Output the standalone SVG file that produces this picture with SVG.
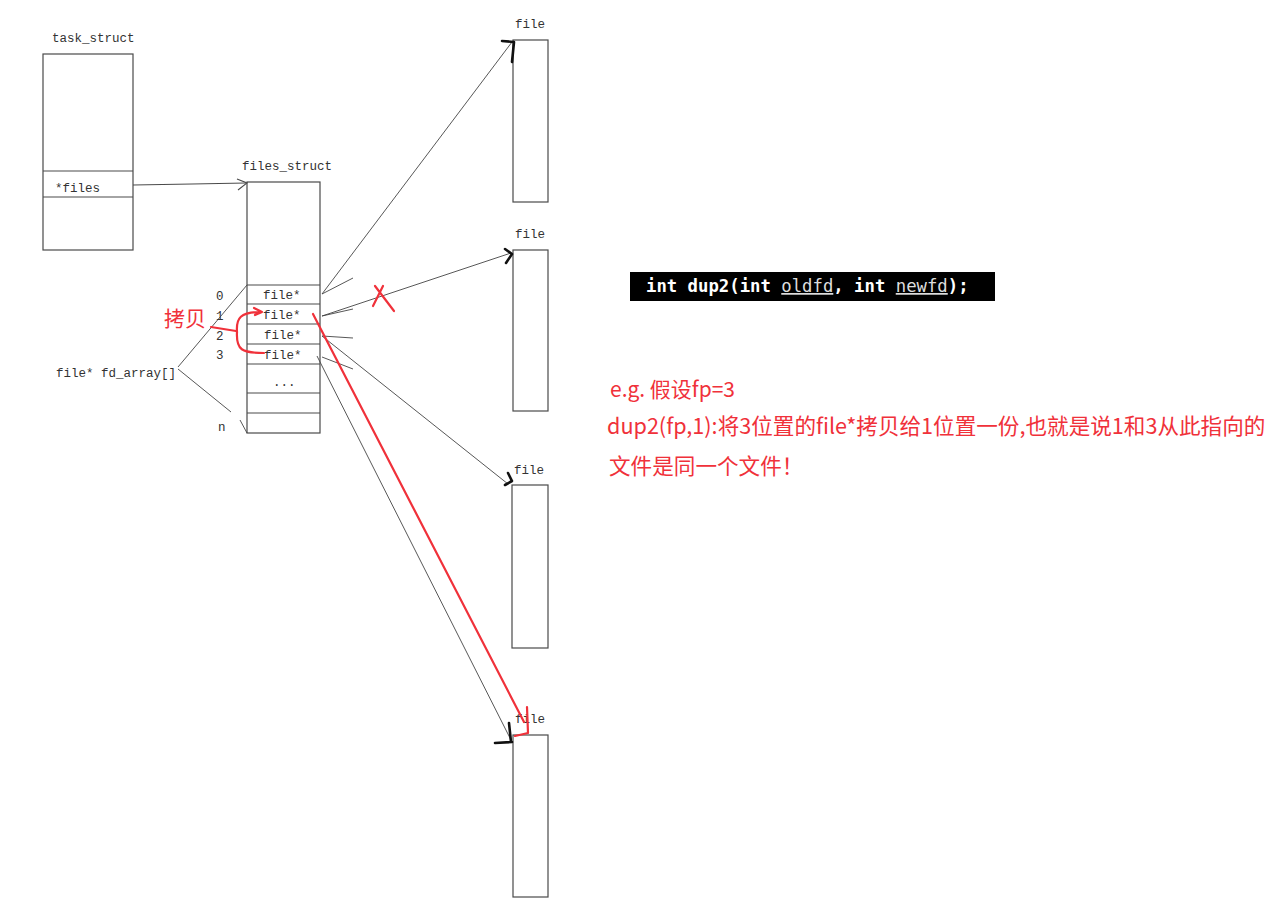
<svg xmlns="http://www.w3.org/2000/svg" width="1278" height="911" viewBox="0 0 1278 911">
<style>
.box{fill:#fff;stroke:#4a4a4a;stroke-width:1.2}
.ln{stroke:#4a4a4a;stroke-width:1.1;fill:none}
.thin{stroke:#444;stroke-width:0.9;fill:none}
.lbl{font-family:"Liberation Mono","DejaVu Sans Mono",monospace;font-size:12.5px;fill:#333}
.ah{stroke:#111;stroke-width:2.6;fill:none;stroke-linecap:round;stroke-linejoin:round}
.red{stroke:#f0313a;stroke-width:2.2;fill:none;stroke-linecap:round;stroke-linejoin:round}
.rt{font-family:"Noto Sans CJK SC","Noto Sans",sans-serif;fill:#f0313a}
.code{font-family:"DejaVu Sans Mono",monospace;font-size:17.3px;fill:#fff;font-weight:bold}
.arg{font-weight:normal;fill:#ddd;text-decoration:underline}
</style>
<rect width="1278" height="911" fill="#fff"/>

<g id="task_struct">
<text class="lbl" x="52" y="42">task_struct</text>
<rect class="box" x="43" y="54" width="90" height="196"/>
<line class="ln" x1="43" y1="171" x2="133" y2="171"/>
<line class="ln" x1="43" y1="197" x2="133" y2="197"/>
<text class="lbl" x="55" y="192">*files</text>
</g>

<g id="files_struct">
<text class="lbl" x="242" y="170">files_struct</text>
<rect class="box" x="247" y="182" width="73" height="251"/>
<line class="ln" x1="247" y1="285" x2="320" y2="285"/>
<line class="ln" x1="247" y1="304" x2="320" y2="304"/>
<line class="ln" x1="247" y1="324" x2="320" y2="324"/>
<line class="ln" x1="247" y1="344" x2="320" y2="344"/>
<line class="ln" x1="247" y1="364" x2="320" y2="364"/>
<line class="ln" x1="247" y1="393" x2="320" y2="393"/>
<line class="ln" x1="247" y1="413" x2="320" y2="413"/>
<text class="lbl" x="263" y="299">file*</text>
<text class="lbl" x="263" y="319">file*</text>
<text class="lbl" x="264" y="339">file*</text>
<text class="lbl" x="264" y="359">file*</text>
<text class="lbl" x="273" y="386">...</text>
<text class="lbl" x="216" y="300">0</text>
<text class="lbl" x="216" y="320">1</text>
<text class="lbl" x="216" y="340">2</text>
<text class="lbl" x="216" y="359">3</text>
<text class="lbl" x="218" y="431">n</text>
<text class="lbl" x="56" y="377">file* fd_array[]</text>
<line class="thin" x1="178" y1="367" x2="247" y2="285"/>
<line class="thin" x1="178" y1="369" x2="231" y2="412"/>
<line class="thin" x1="240" y1="420" x2="247" y2="433"/>
</g>

<g id="file1">
<text class="lbl" x="515" y="28">file</text>
<rect class="box" x="513" y="40" width="35" height="162"/>
</g>
<g id="file2">
<text class="lbl" x="515" y="238">file</text>
<rect class="box" x="513" y="250" width="35" height="161"/>
</g>
<g id="file3">
<text class="lbl" x="514" y="474">file</text>
<rect class="box" x="512" y="485" width="36" height="163"/>
</g>
<g id="file4">
<text class="lbl" x="515" y="723">file</text>
<rect class="box" x="513" y="735" width="35" height="162"/>
</g>

<g id="connectors">
<path class="ln" d="M133,185 L192,184 L246,183"/>
<path class="ln" d="M237,179 L247,183 L238,190"/>
<line class="thin" x1="322" y1="294" x2="512" y2="42"/>
<line class="thin" x1="322" y1="294" x2="353" y2="278"/>
<line class="thin" x1="322" y1="316" x2="511" y2="253"/>
<line class="thin" x1="322" y1="316" x2="353" y2="309"/>
<line class="thin" x1="322" y1="336" x2="508" y2="484"/>
<line class="thin" x1="322" y1="336" x2="353" y2="338"/>
<line class="thin" x1="317" y1="356" x2="511" y2="740"/>
<line class="thin" x1="322" y1="357" x2="353" y2="369"/>
<path class="ah" d="M502,41 L514,42 L512,62"/>
<path class="ah" d="M505,249 L512,254 L506,263"/>
<path class="ah" d="M508,473 L512,481 L505,485"/>
<path class="ah" d="M509,723 L511,742 M495,743 L512,742"/>
<path class="red" d="M313,314 L524,722 M527,707 L528,733 L515,736"/>
<path class="red" d="M375,286 L394,311 M383,286 L373,306"/>
<path class="red" d="M211,327 L236,331"/>
<path class="red" d="M237,332 C236,318 240,312 262,312 M254,308 L262,312 L255,315"/>
<path class="red" d="M237,332 C236,350 242,353 264,353"/>
</g>

<g id="copy_label">
<text class="rt" x="164" y="326" font-size="21">拷贝</text>
</g>

<g id="code">
<rect x="630" y="272" width="365" height="29" fill="#000"/>
<text class="code" x="646" y="292">int dup2(int <tspan class="arg">oldfd</tspan>, int <tspan class="arg">newfd</tspan>);</text>
</g>

<g id="note">
<text class="rt" x="610" y="397" font-size="21">e.g. 假设fp=3</text>
<text class="rt" x="607" y="434" font-size="21.6">dup2(fp,1):将3位置的file*拷贝给1位置一份,也就是说1和3从此指向的</text>
<text class="rt" x="609" y="474" font-size="21.6">文件是同一个文件！</text>
</g>
</svg>
